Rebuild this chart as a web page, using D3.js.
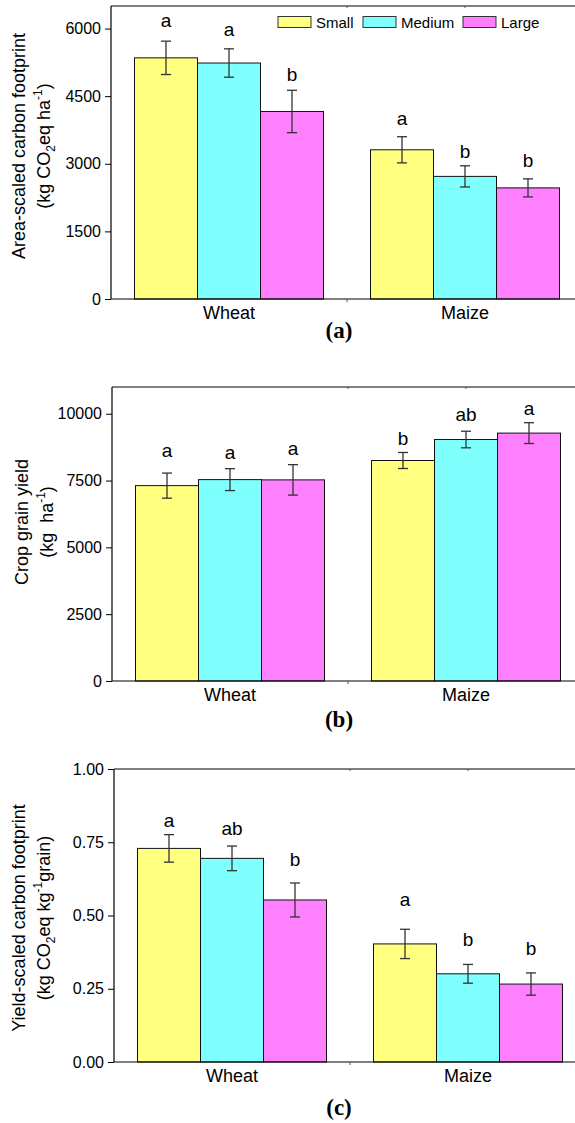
<!DOCTYPE html>
<html>
<head>
<meta charset="utf-8">
<script src="https://cdn.jsdelivr.net/npm/d3@7"></script>
<style>
  body { margin: 0; background: #fff; }
  svg { display: block; }
  text { font-family: "Liberation Sans", Arial, sans-serif; fill: #000; }
</style>
</head>
<body>
<svg id="chart" width="575" height="1123"></svg>
<script>
// Categorias e séries
const crops = ["Wheat", "Maize"];
const sizes = ["Small", "Medium", "Large"];
const sizeColors = ["#ffff80", "#80ffff", "#ff80ff"];

// (a) Area-scaled carbon footprint
const areaMean = [[5350, 5235, 4160], [3310, 2720, 2465]];
const areaErr = [[370, 315, 470], [290, 235, 200]];
const areaLetters = [["a", "a", "b"], ["a", "b", "b"]];
const areaLetterY = [[6040, 5845, 4845], [3865, 3135, 2935]];
const areaTicks = [0, 1500, 3000, 4500, 6000];

// (b) Crop grain yield
const yieldMean = [[7310, 7535, 7525], [8250, 9035, 9275]];
const yieldErr = [[470, 410, 570], [300, 310, 390]];
const yieldLetters = [["a", "a", "a"], ["b", "ab", "a"]];
const yieldLetterY = [[8390, 8300, 8460], [8840, 9710, 9960]];
const yieldTicks = [0, 2500, 5000, 7500, 10000];

// (c) Yield-scaled carbon footprint
const ycfMean = [[0.729, 0.695, 0.553], [0.403, 0.301, 0.266]];
const ycfErr = [[0.047, 0.042, 0.058], [0.050, 0.032, 0.038]];
const ycfLetters = [["a", "ab", "b"], ["a", "b", "b"]];
const ycfLetterY = [[0.803, 0.776, 0.668], [0.531, 0.395, 0.364]];
const ycfTicks = [0, 0.25, 0.5, 0.75, 1.0];

const svg = d3.select("#chart");

const panels = [
  {
    left: 111, top: 6, bottom: 299, max: 6500,
    mean: areaMean, err: areaErr, letters: areaLetters, letterY: areaLetterY,
    ticks: areaTicks, fmt: d3.format("d"),
    labelY: 146, line1: "Area-scaled carbon footprint",
    line2: [["(kg CO"], ["2", "sub"], ["eq ha"], ["-1", "sup"], [")"]],
    l1x: 25, l2x: 50, tag: "(a)", tagY: 338, legend: true
  },
  {
    left: 112, top: 387, bottom: 681, max: 11000,
    mean: yieldMean, err: yieldErr, letters: yieldLetters, letterY: yieldLetterY,
    ticks: yieldTicks, fmt: d3.format("d"),
    labelY: 522, line1: "Crop grain yield",
    line2: [["(kg\u00a0\u00a0ha"], ["-1", "sup"], [")"]],
    l1x: 28, l2x: 53, tag: "(b)", tagY: 727, legend: false
  },
  {
    left: 114, top: 769, bottom: 1062, max: 1.0,
    mean: ycfMean, err: ycfErr, letters: ycfLetters, letterY: ycfLetterY,
    ticks: ycfTicks, fmt: d3.format(".2f"),
    labelY: 918, line1: "Yield-scaled carbon footprint",
    line2: [["(kg CO"], ["2", "sub"], ["eq kg"], ["-1", "sup"], ["grain)"]],
    l1x: 25, l2x: 50, tag: "(c)", tagY: 1115, legend: false
  }
];

panels.forEach(drawPanel);

function drawPanel(p) {
  const g = svg.append("g");
  const bandW = 236;

  const x = d3.scaleBand()
    .domain(crops)
    .range([p.left, p.left + bandW * crops.length])
    .padding(0);

  const xs = d3.scaleBand()
    .domain(sizes)
    .range([0, bandW])
    .paddingInner(0)
    .paddingOuter(0.373);

  const y = d3.scaleLinear()
    .domain([0, p.max])
    .range([p.bottom, p.top]);

  // Barras
  crops.forEach((crop, ci) => {
    const cg = g.append("g").attr("transform", `translate(${x(crop)},0)`);

    cg.selectAll("rect")
      .data(sizes)
      .enter()
      .append("rect")
      .attr("x", s => xs(s))
      .attr("y", (s, i) => y(p.mean[ci][i]))
      .attr("width", xs.bandwidth())
      .attr("height", (s, i) => y(0) - y(p.mean[ci][i]))
      .attr("fill", (s, i) => sizeColors[i])
      .attr("stroke", "#111")
      .attr("stroke-width", 1);

    // Barras de erro
    sizes.forEach((s, i) => {
      const cx = xs(s) + xs.bandwidth() / 2;
      const hi = y(p.mean[ci][i] + p.err[ci][i]);
      const lo = y(p.mean[ci][i] - p.err[ci][i]);
      const eb = cg.append("g").attr("stroke", "#333").attr("stroke-width", 1.3);
      eb.append("line").attr("x1", cx).attr("x2", cx).attr("y1", hi).attr("y2", lo);
      eb.append("line").attr("x1", cx - 5).attr("x2", cx + 5).attr("y1", hi).attr("y2", hi);
      eb.append("line").attr("x1", cx - 5).attr("x2", cx + 5).attr("y1", lo).attr("y2", lo);

      // Letras de significância
      cg.append("text")
        .attr("x", cx)
        .attr("y", y(p.letterY[ci][i]))
        .attr("text-anchor", "middle")
        .attr("font-size", "19px")
        .text(p.letters[ci][i]);
    });
  });

  // Eixo Y
  const yAxis = g.append("g")
    .attr("transform", `translate(${p.left},0)`)
    .call(d3.axisLeft(y).tickValues(p.ticks).tickFormat(p.fmt).tickSize(6).tickPadding(4).tickSizeOuter(0));
  yAxis.select(".domain").remove();
  yAxis.selectAll(".tick line").attr("stroke", "#000");
  yAxis.selectAll("text").attr("font-size", "16px").attr("font-family", "Liberation Sans, Arial, sans-serif");

  // Moldura (esquerda, topo, base)
  const right = p.left + bandW * crops.length;
  g.append("line").attr("x1", p.left).attr("x2", p.left).attr("y1", p.top).attr("y2", p.bottom)
    .attr("stroke", "#000").attr("stroke-width", 1.2);
  g.append("line").attr("x1", p.left).attr("x2", right).attr("y1", p.top).attr("y2", p.top)
    .attr("stroke", "#000").attr("stroke-width", 1.2);
  g.append("line").attr("x1", p.left).attr("x2", right).attr("y1", p.bottom).attr("y2", p.bottom)
    .attr("stroke", "#000").attr("stroke-width", 1.2);

  // Marcas pequenas no eixo X (separador) e no topo
  const sep = x("Maize");
  g.append("line").attr("x1", sep).attr("x2", sep).attr("y1", p.bottom).attr("y2", p.bottom + 3)
    .attr("stroke", "#555");
  [sep, x("Maize") + bandW / 2].forEach(tx => {
    g.append("line").attr("x1", tx).attr("x2", tx).attr("y1", p.top).attr("y2", p.top + 2)
      .attr("stroke", "#555");
  });

  // Rótulos das categorias
  g.selectAll(".cat")
    .data(crops)
    .enter()
    .append("text")
    .attr("class", "cat")
    .attr("x", d => x(d) + bandW / 2)
    .attr("y", p.bottom + 20)
    .attr("text-anchor", "middle")
    .attr("font-size", "18px")
    .text(d => d);

  // Rótulo (a)/(b)/(c)
  g.append("text")
    .attr("x", 339)
    .attr("y", p.tagY)
    .attr("text-anchor", "middle")
    .style("font-family", "'Liberation Serif', 'Times New Roman', serif")
    .attr("font-weight", "bold")
    .attr("font-size", "23px")
    .text(p.tag);

  // Título do eixo Y (duas linhas)
  g.append("text")
    .attr("transform", `translate(${p.l1x},${p.labelY}) rotate(-90)`)
    .attr("text-anchor", "middle")
    .attr("font-size", "18px")
    .text(p.line1);

  const t2 = g.append("text")
    .attr("transform", `translate(${p.l2x},${p.labelY}) rotate(-90)`)
    .attr("text-anchor", "middle")
    .attr("font-size", "18px");
  let shift = 0;
  p.line2.forEach(([txt, kind]) => {
    const ts = t2.append("tspan").text(txt);
    let target = 0;
    if (kind === "sub") { ts.attr("font-size", "12px"); target = 5; }
    if (kind === "sup") { ts.attr("font-size", "12px"); target = -8; }
    ts.attr("dy", target - shift);
    shift = target;
  });

  // Legenda
  if (p.legend) {
    const legX = [278, 363, 463];
    const lg = g.append("g");
    sizes.forEach((s, i) => {
      lg.append("rect")
        .attr("x", legX[i]).attr("y", 16.5)
        .attr("width", 33).attr("height", 11)
        .attr("fill", sizeColors[i])
        .attr("stroke", "#333").attr("stroke-width", 1);
      lg.append("text")
        .attr("x", legX[i] + 38).attr("y", 27.5)
        .attr("font-size", "15px")
        .text(s);
    });
  }
}
</script>
</body>
</html>
